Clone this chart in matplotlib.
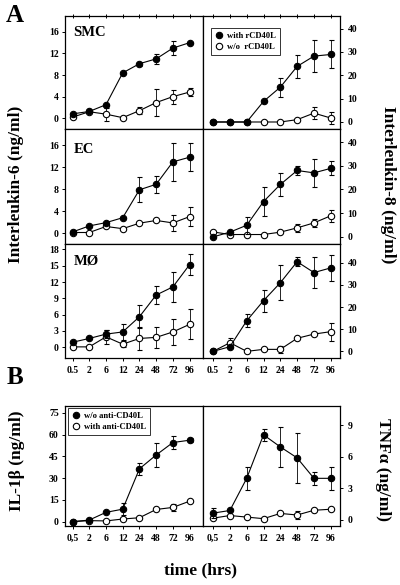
import matplotlib
matplotlib.use("Agg")
import matplotlib.pyplot as plt
from matplotlib.lines import Line2D
import numpy as np

plt.rcParams['font.family'] = ['Liberation Serif', 'DejaVu Serif']
plt.rcParams['font.weight'] = 'bold'
plt.rcParams['axes.linewidth'] = 0.9

# ---- data ----
times_a = ["0.5", "2", "6", "12", "24", "48", "72", "96"]
times_b = ["0,5", "2", "6", "12", "24", "48", "72", "96"]

smc_il6_with = [0.8, 1.25, 2.5, 8.4, 10.1, 11.0, 13.0, 14.0]
smc_il6_with_err = [0, 0, 0, 0, 0.4, 0.9, 1.35, 0]
smc_il6_wo = [0.2, 1.2, 0.75, 0.1, 1.4, 2.9, 4.0, 4.85]
smc_il6_wo_err = [0, 0, 1.2, 0, 0.6, 2.5, 1.3, 0.7]

smc_il8_with = [0, 0, 0, 8.8, 14.9, 23.8, 28.2, 28.9]
smc_il8_with_err = [0, 0, 0, 0, 4, 5, 6.7, 6]
smc_il8_wo = [0, 0, 0, 0, 0, 1, 3.8, 1.7]
smc_il8_wo_err = [0, 0, 0, 0, 0, 0, 2.5, 2.5]

ec_il6_with = [0.2, 1.3, 1.9, 2.8, 7.9, 8.9, 13.0, 13.85]
ec_il6_with_err = [0, 0, 0, 0, 2.3, 1.5, 3.5, 2.55]
ec_il6_wo = [0.1, 0.1, 1.2, 0.8, 1.8, 2.3, 1.85, 3.0]
ec_il6_wo_err = [0, 0, 0, 0, 0, 0, 1.45, 1.7]

ec_il8_with = [0, 2, 4.9, 14.9, 22.1, 28, 27, 28.9]
ec_il8_with_err = [0, 0, 3.6, 6, 5, 1.9, 5.8, 3]
ec_il8_wo = [2.1, 1, 1, 1, 2, 3.8, 5.9, 8.9]
ec_il8_wo_err = [0, 0, 0, 0, 0, 1.8, 1.8, 2.5]

mo_il6_with = [0.9, 1.6, 2.4, 2.8, 5.6, 9.6, 11.1, 15.2]
mo_il6_with_err = [0, 0, 0.8, 1.5, 2.1, 1.7, 2.75, 2.0]
mo_il6_wo = [0.05, 0.05, 1.9, 0.55, 1.6, 1.8, 2.8, 4.2]
mo_il6_wo_err = [0, 0, 1.3, 0.5, 2.1, 1.9, 2.4, 2.75]

mo_il8_with = [0, 2.1, 13.8, 22.9, 31, 40.5, 35.6, 37.7]
mo_il8_with_err = [0, 0, 3, 5, 8, 2, 7, 6]
mo_il8_wo = [0, 3.9, 0, 0.9, 0.9, 5.9, 7.8, 8.9]
mo_il8_wo_err = [0, 2, 0, 0, 1.5, 0, 0, 4]

il1b_wo_anti = [0, 1.1, 6.4, 8.6, 36.4, 45.9, 54.5, 56.1]
il1b_wo_anti_err = [0, 0, 0, 4, 4.2, 8.5, 4.2, 1.5]
il1b_with_anti = [0, 0.7, 0.5, 1.8, 2.7, 8.4, 9.8, 14.1]
il1b_with_anti_err = [0, 0, 0, 0, 0, 0, 2.5, 0]

tnf_wo_anti = [0.63, 0.88, 3.95, 8.1, 6.95, 5.9, 3.95, 3.95]
tnf_wo_anti_err = [0.5, 0, 1.1, 0.6, 1.93, 2.4, 0.6, 1.1]
tnf_with_anti = [0.15, 0.4, 0.25, 0.1, 0.6, 0.45, 0.9, 1.0]
tnf_with_anti_err = [0, 0, 0, 0, 0, 0.4, 0, 0]

legend_a = ["with rCD40L", "w/o  rCD40L"]
legend_b = ["w/o anti-CD40L", "with anti-CD40L"]

fig = plt.figure(figsize=(4.0, 5.85), dpi=100)

x = np.arange(len(times_a))
FS_TICK = 7
MS = 4.6


def plot_pair(ax, filled, filled_err, open_, open_err):
    ax.errorbar(x, open_, yerr=open_err, fmt='-o', color='black', mfc='white',
                mec='black', ms=MS, mew=0.8, lw=0.8, elinewidth=0.6,
                capsize=1.8, capthick=0.6, zorder=2)
    ax.errorbar(x, filled, yerr=filled_err, fmt='-o', color='black', mfc='black',
                mec='black', ms=MS, mew=0.8, lw=0.8, elinewidth=0.6,
                capsize=1.8, capthick=0.6, zorder=3)


def add_legend(ax, labels, anchor):
    handles = [Line2D([], [], ls='none', marker='o', ms=MS, mfc='black', mec='black', mew=0.8),
               Line2D([], [], ls='none', marker='o', ms=MS, mfc='white', mec='black', mew=0.8)]
    leg = ax.legend(handles, labels, loc='upper left', bbox_to_anchor=anchor,
                    fontsize=6.2, frameon=True, fancybox=False, edgecolor='black',
                    handlelength=0.8, handletextpad=0.6, borderpad=0.45,
                    labelspacing=0.35, borderaxespad=0)
    leg.get_frame().set_linewidth(0.7)
    for t in leg.get_texts():
        t.set_fontweight('bold')


def style(ax, side, bottom_labels, top_ticks, labels, xlim):
    ax.set_xlim(*xlim)
    ax.set_xticks(x)
    if bottom_labels:
        ax.set_xticklabels(labels, fontsize=FS_TICK, fontweight='bold')
        ax.tick_params(axis='x', bottom=True, direction='out', length=2.5,
                       width=0.7, pad=3)
    else:
        ax.set_xticklabels([])
        ax.tick_params(axis='x', bottom=False, labelbottom=False)
    if top_ticks:
        ax.tick_params(axis='x', top=True, direction='inout', length=3, width=0.7)
    if side == 'left':
        ax.tick_params(axis='y', left=True, right=False, labelleft=True,
                       labelright=False, direction='out', length=2.5, width=0.7,
                       labelsize=FS_TICK, pad=2)
    else:
        ax.tick_params(axis='y', left=False, right=True, labelleft=False,
                       labelright=True, direction='out', length=2.5, width=0.7,
                       labelsize=FS_TICK, pad=3)
    for t in ax.get_yticklabels():
        t.set_fontweight('bold')


L0, LW = 65 / 400, 138 / 400
R0, RW = 203 / 400, 137 / 400
H = 585.0
rows = [(15.7, 129), (129, 244), (244, 358)]

left_data = [
    (smc_il6_with, smc_il6_with_err, smc_il6_wo, smc_il6_wo_err, "SMC", 0.85, [0, 4, 8, 12, 16]),
    (ec_il6_with, ec_il6_with_err, ec_il6_wo, ec_il6_wo_err, "EC", 0.82, [0, 4, 8, 12, 16]),
    (mo_il6_with, mo_il6_with_err, mo_il6_wo, mo_il6_wo_err, "MØ", 0.85, [0, 3, 6, 9, 12, 15, 18]),
]
right_data = [
    (smc_il8_with, smc_il8_with_err, smc_il8_wo, smc_il8_wo_err, (-3, 45.5)),
    (ec_il8_with, ec_il8_with_err, ec_il8_wo, ec_il8_wo_err, (-3, 45.5)),
    (mo_il8_with, mo_il8_with_err, mo_il8_wo, mo_il8_wo_err, (-3, 48.5)),
]

for i, (top, bot) in enumerate(rows):
    b = 1 - bot / H
    h = (bot - top) / H
    axl = fig.add_axes([L0, b, LW, h])
    f, fe, o, oe, name, ty, yt = left_data[i]
    plot_pair(axl, f, fe, o, oe)
    axl.set_ylim(-2, 19)
    axl.set_yticks(yt)
    style(axl, 'left', i == 2, i == 0, times_a, (-0.45, 7.8))
    axl.text(0.06, ty, name, transform=axl.transAxes, fontsize=10.5,
             fontweight='bold', va='center', ha='left')

    axr = fig.add_axes([R0, b, RW, h])
    f, fe, o, oe, yl = right_data[i]
    plot_pair(axr, f, fe, o, oe)
    axr.set_ylim(*yl)
    axr.set_yticks([0, 10, 20, 30, 40])
    style(axr, 'right', i == 2, i == 0, times_a, (-0.6, 7.55))
    if i == 0:
        add_legend(axr, legend_a, (0.06, 0.89))

# Panel B
bb = 1 - 526 / H
bh = (526 - 405.5) / H
axb1 = fig.add_axes([L0, bb, LW, bh])
plot_pair(axb1, il1b_wo_anti, il1b_wo_anti_err, il1b_with_anti, il1b_with_anti_err)
axb1.set_ylim(-3, 80)
axb1.set_yticks([0, 15, 30, 45, 60, 75])
style(axb1, 'left', True, False, times_b, (-0.45, 7.8))
add_legend(axb1, legend_b, (0.025, 0.98))

axb2 = fig.add_axes([R0, bb, RW, bh])
plot_pair(axb2, tnf_wo_anti, tnf_wo_anti_err, tnf_with_anti, tnf_with_anti_err)
axb2.set_ylim(-0.6, 10.9)
axb2.set_yticks([0, 3, 6, 9])
style(axb2, 'right', True, False, times_b, (-0.6, 7.55))

# Labels
fig.text(15 / 400, 1 - 15 / H, "A", fontsize=18, fontweight='bold', ha='center', va='center')
fig.text(15 / 400, 1 - 377 / H, "B", fontsize=18, fontweight='bold', ha='center', va='center')
fig.text(16 / 400, 1 - 184 / H, "Interleukin-6 (ng/ml)", rotation=90, fontsize=12.5,
         fontweight='bold', ha='center', va='center')
fig.text(388 / 400, 1 - 185 / H, "Interleukin-8 (ng/ml)", rotation=270, fontsize=12.5,
         fontweight='bold', ha='center', va='center')
fig.text(17 / 400, 1 - 461 / H, "IL-1β (ng/ml)", rotation=90, fontsize=12.5,
         fontweight='bold', ha='center', va='center')
fig.text(383 / 400, 1 - 469 / H, "TNFα (ng/ml)", rotation=270, fontsize=12.5,
         fontweight='bold', ha='center', va='center')
fig.text(200 / 400, 1 - 570 / H, "time (hrs)", fontsize=12.5, fontweight='bold',
         ha='center', va='center')

fig.savefig("out.png", dpi=100)
